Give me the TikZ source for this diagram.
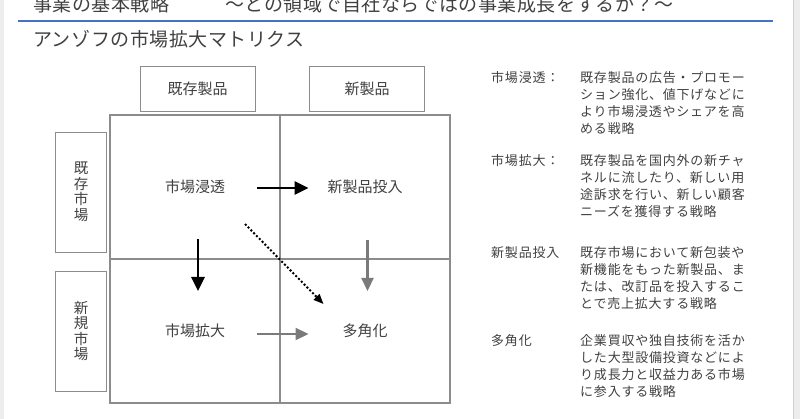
\documentclass[tikz,border=0pt]{standalone}
\usepackage{fontspec}
\setmainfont{Noto Sans CJK JP}
\usepackage{xcolor}
\usetikzlibrary{positioning,arrows.meta}

\definecolor{rulblue}{HTML}{4472C4}
\definecolor{txtgray}{HTML}{404040}
\definecolor{boxgray}{HTML}{8C8C8C}
\definecolor{arrgray}{HTML}{7A7A7A}

\begin{document}
\begin{tikzpicture}[
        x=1pt, y=-1pt,
        head/.style={
            inner sep=0,
            anchor=base west,
            text=txtgray,
            font=\fontsize{19}{22}\selectfont\addfontfeature{LetterSpace=2.8}
        },
        cell/.style={
            draw=boxgray,
            line width=1.1pt,
            rectangle,
            minimum width=170pt,
            minimum height=144pt,
            inner sep=0,
            outer sep=0
        },
        word/.style={
            text=txtgray,
            font=\fontsize{15}{18}\selectfont
        },
        axisbox/.style={
            draw=boxgray,
            line width=0.9pt,
            rectangle,
            minimum width=115pt,
            minimum height=45pt,
            text=txtgray,
            font=\fontsize{15}{18}\selectfont
        },
        sidebox/.style={
            draw=boxgray,
            line width=0.9pt,
            rectangle,
            minimum width=51pt,
            minimum height=120pt,
            align=center,
            text=txtgray,
            font=\fontsize{14.5}{15.5}\selectfont
        },
        arrow/.style={
            -{Triangle[length=14pt,width=13pt]},
            line width=2.6pt
        },
        grayarrow/.style={
            -{Triangle[length=13pt,width=12pt]},
            line width=2.2pt,
            draw=arrgray,
            fill=arrgray
        },
        dotarrow/.style={
            -{Triangle[length=10pt,width=8pt]},
            line width=2pt,
            dotted
        },
        note/.style={
            inner sep=0,
            anchor=north west,
            align=left,
            text=txtgray,
            font=\fontsize{13}{17}\selectfont\addfontfeature{LetterSpace=6}
        }
    ]
    \useasboundingbox (0,0) rectangle (800,419);
    % slide edges
    \fill[black!7] (0,0) rectangle (4,419);
    \fill[black!7] (793,0) rectangle (800,419);
    \draw[black!18] (793,0) -- (793,419);

    % heading
    \node (topic) [head] at (33,12) {事業の基本戦略};
    \node (question) [head] at (225,12) {～との領域で自社ならではの事業成長をするか？～};
    \draw[rulblue, line width=2pt] (18,21) -- (773,21);
    \node (title) [head] at (33,47) {アンゾフの市場拡大マトリクス};

    % matrix
    \node (c11) [cell] at (195,187) {};
    \node (c12) [cell, right=0pt of c11] {};
    \node (c21) [cell, below=0pt of c11] {};
    \node (c22) [cell, below=0pt of c12] {};

    \node (oldprod) [axisbox, above=3pt of c11, xshift=2.5pt] {既存製品};
    \node (newprod) [axisbox, above=3pt of c12, xshift=2pt] {新製品};
    \node (oldmkt) [sidebox, left=3pt of c11, yshift=-5pt] {既\\存\\市\\場};
    \node (newmkt) [sidebox, left=3pt of c21] {新\\規\\市\\場};

    \node (pen) [word] at (c11.center) {市場浸透};
    \node (dev) [word] at (c12.center) {新製品投入};
    \node (ext) [word] at (c21.center) {市場拡大};
    \node (div) [word] at (c22.center) {多角化};

    \draw[arrow, shorten <=62pt, shorten >=56.5pt] ([yshift=-1pt]pen.center) -- ([yshift=-1pt]dev.center);
    \draw[arrow, shorten <=52pt, shorten >=40pt] ([xshift=3pt]pen.center) -- ([xshift=3pt]ext.center);
    \draw[grayarrow, shorten <=53pt, shorten >=40pt] ([xshift=2.5pt]dev.center) -- ([xshift=2.5pt]div.center);
    \draw[grayarrow, shorten <=62pt, shorten >=56.5pt] ([yshift=-3pt]ext.center) -- ([yshift=-3pt]div.center);
    \draw[dotarrow] ([shift={(50,37)}]pen.center) -- ([shift={(-41.5,-27)}]div.center);

    % explanations
    \node (penlbl) [note] at (491,71) {市場浸透：};
    \node (pentxt) [note] at (580,71) {既存製品の広告・プロモー\\ション強化、値下げなどに\\より市場浸透やシェアを高\\める戦略};
    \node (extlbl) [note] at (491,154) {市場拡大：};
    \node (exttxt) [note] at (580,154) {既存製品を国内外の新チャ\\ネルに流したり、新しい用\\途訴求を行い、新しい顧客\\ニーズを獲得する戦略};
    \node (devlbl) [note] at (491,246) {新製品投入};
    \node (devtxt) [note] at (580,246) {既存市場において新包装や\\新機能をもった新製品、ま\\たは、改訂品を投入するこ\\とで売上拡大する戦略};
    \node (divlbl) [note] at (491,334) {多角化};
    \node (divtxt) [note] at (580,334) {企業買収や独自技術を活か\\した大型設備投資などによ\\り成長力と収益力ある市場\\に参入する戦略};
\end{tikzpicture}
\end{document}
